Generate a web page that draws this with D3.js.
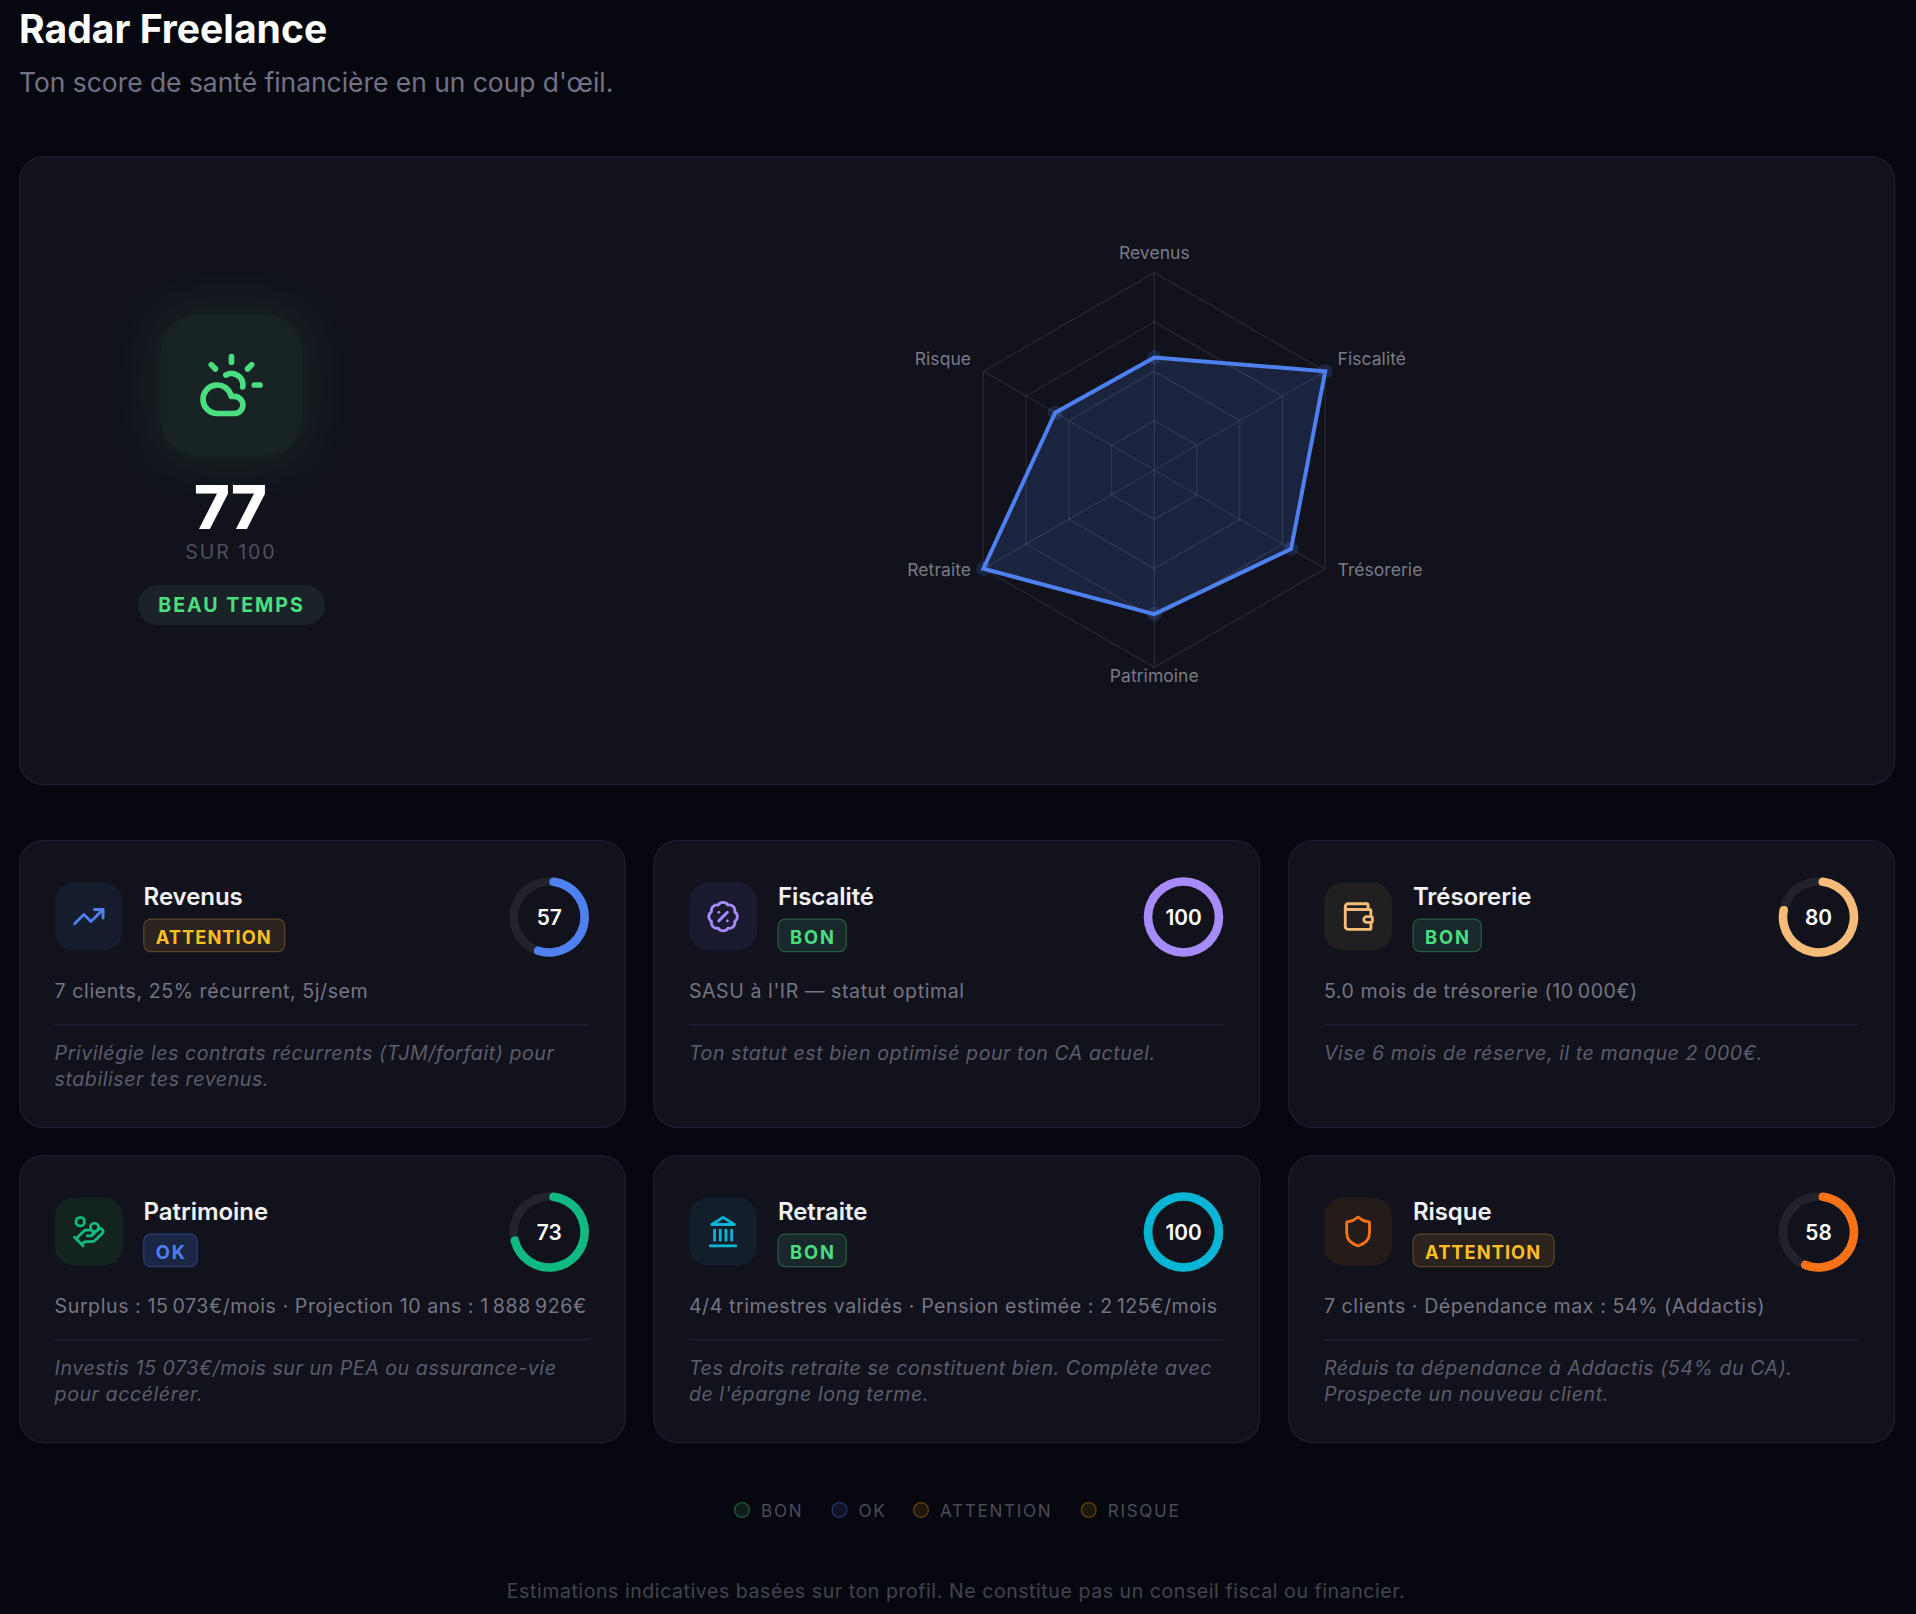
<!DOCTYPE html>
<html lang="fr">
<head>
<meta charset="utf-8">
<title>Radar Freelance</title>
<script src="https://cdn.jsdelivr.net/npm/d3@7"></script>
<style>
  html, body { margin: 0; padding: 0; background: #07080f; }
  svg { display: block; }
  text { font-family: Inter, "Noto Sans", sans-serif; }
</style>
</head>
<body>
<svg id="chart"></svg>
<script>
const axes = ['Revenus', 'Fiscalité', 'Trésorerie', 'Patrimoine', 'Retraite', 'Risque'];
const scores = [57, 100, 80, 73, 100, 58];
const gridLevels = [25, 50, 75, 100];
const statuses = ['ATTENTION', 'BON', 'BON', 'OK', 'BON', 'ATTENTION'];
const colors = ['#4f80f0', '#a78bfa', '#f5bb78', '#10b981', '#06b6d4', '#f97316'];
const details = [
  '7 clients, 25% récurrent, 5j/sem',
  "SASU à l'IR — statut optimal",
  '5.0 mois de trésorerie (10\u202f000€)',
  'Surplus : 15\u202f073€/mois · Projection 10 ans : 1\u202f888\u202f926€',
  '4/4 trimestres validés · Pension estimée : 2\u202f125€/mois',
  '7 clients · Dépendance max : 54% (Addactis)'
];
const tips = [
  ['Privilégie les contrats récurrents (TJM/forfait) pour', 'stabiliser tes revenus.'],
  ['Ton statut est bien optimisé pour ton CA actuel.'],
  ['Vise 6 mois de réserve, il te manque 2 000€.'],
  ['Investis 15 073€/mois sur un PEA ou assurance-vie', 'pour accélérer.'],
  ["Tes droits retraite se constituent bien. Complète avec", "de l'épargne long terme."],
  ['Réduis ta dépendance à Addactis (54% du CA).', 'Prospecte un nouveau client.']
];
const legendLabels = ['BON', 'OK', 'ATTENTION', 'RISQUE'];
const overallScore = 77;

// lucide icons, 24x24
const icons = {
  cloud: ['M12 2v2', 'm4.93 4.93 1.41 1.41', 'M20 12h2', 'm19.07 4.93-1.41 1.41', 'M15.947 12.65a4 4 0 0 0-5.925-4.128', 'M13 22H7a5 5 0 1 1 4.9-6H13a3 3 0 0 1 0 6Z'],
  trending: ['M22 7 13.5 15.5 8.5 10.5 2 17', 'M16 7h6v6'],
  percent: ['M3.85 8.62a4 4 0 0 1 4.78-4.77 4 4 0 0 1 6.74 0 4 4 0 0 1 4.78 4.78 4 4 0 0 1 0 6.74 4 4 0 0 1-4.77 4.78 4 4 0 0 1-6.75 0 4 4 0 0 1-4.78-4.77 4 4 0 0 1 0-6.76Z', 'm15 9-6 6', 'M9 9h.01', 'M15 15h.01'],
  wallet: ['M19 7V4a1 1 0 0 0-1-1H5a2 2 0 0 0 0 4h15a1 1 0 0 1 1 1v4h-3a2 2 0 0 0 0 4h3a1 1 0 0 0 1-1v-2a1 1 0 0 0-1-1', 'M3 5v14a2 2 0 0 0 2 2h15a1 1 0 0 0 1-1v-4'],
  coins: ['M11 15h2a2 2 0 1 0 0-4h-3c-.6 0-1.1.2-1.4.6L3 17', 'm7 21 1.6-1.4c.3-.4.8-.6 1.4-.6h4c1.1 0 2.1-.4 2.8-1.2l4.6-4.4a2 2 0 0 0-2.75-2.91l-4.2 3.9', 'm2 16 6 6', 'M18.9 9a2.9 2.9 0 1 1-5.8 0 2.9 2.9 0 1 1 5.8 0', 'M9 5a3 3 0 1 1-6 0 3 3 0 1 1 6 0'],
  landmark: ['M3 22h18', 'M6 18v-7', 'M10 18v-7', 'M14 18v-7', 'M18 18v-7', 'M12 2l8 5H4z'],
  shield: ['M20 13c0 5-3.5 7.5-7.66 8.95a1 1 0 0 1-.67-.01C7.5 20.5 4 18 4 13V6a1 1 0 0 1 1-1c2 0 4.5-1.2 6.24-2.72a1.17 1.17 0 0 1 1.52 0C14.51 3.81 17 5 19 5a1 1 0 0 1 1 1z']
};
const cardIcons = ['trending', 'percent', 'wallet', 'coins', 'landmark', 'shield'];
const iconBg = ['#141c2e', '#1a1a30', '#221f20', '#13231f', '#121f2b', '#231c18'];

const badgeStyle = {
  ATTENTION: { text: '#fbbf24', fill: '#2a231e', stroke: '#5a4426', spacing: 1.02, pad: 24.9 },
  BON: { text: '#4ade80', fill: '#19282a', stroke: '#285a40', spacing: 1.83, pad: 22.5 },
  OK: { text: '#4f80f0', fill: '#1b2544', stroke: '#2b3e70', spacing: 1.83, pad: 22.5 }
};
const legendColors = ['#4ade80', '#4f80f0', '#f59e0b', '#f59e0b'];

const width = 1916, height = 1614;
const svg = d3.select('#chart').attr('width', width).attr('height', height);

const defs = svg.append('defs');
defs.append('filter').attr('id', 'glow')
  .attr('x', '-60%').attr('y', '-60%').attr('width', '220%').attr('height', '220%')
  .append('feGaussianBlur').attr('stdDeviation', 26);

function label(g, str, x, y, size, weight, fill, opts = {}) {
  return g.append('text')
    .attr('x', x).attr('y', y)
    .attr('font-size', size)
    .attr('font-weight', weight)
    .attr('fill', fill)
    .attr('text-anchor', opts.anchor || 'start')
    .attr('letter-spacing', opts.spacing || 0)
    .attr('font-style', opts.style || 'normal')
    .text(str);
}

function drawIcon(g, name, cx, cy, size, color) {
  const s = size / 24;
  const ic = g.append('g')
    .attr('transform', `translate(${cx - size / 2},${cy - size / 2}) scale(${s})`)
    .attr('fill', 'none')
    .attr('stroke', color)
    .attr('stroke-width', 2)
    .attr('stroke-linecap', 'round')
    .attr('stroke-linejoin', 'round');
  ic.selectAll('path').data(icons[name]).enter().append('path').attr('d', d => d);
}

// header
label(svg, 'Radar Freelance', 19, 42.5, 39.1, 700, '#ffffff');
label(svg, "Ton score de santé financière en un coup d'œil.", 19, 92, 26.4, 400, '#727287');

// hero card
svg.append('rect')
  .attr('x', 19.6).attr('y', 156.6).attr('width', 1875).attr('height', 628)
  .attr('rx', 24).attr('fill', '#11121b').attr('stroke', '#1e1e30').attr('stroke-width', 1.4);

const hero = svg.append('g');
hero.append('rect')
  .attr('x', 155).attr('y', 309).attr('width', 153).attr('height', 153).attr('rx', 40)
  .attr('fill', '#4ade80').attr('opacity', 0.1).attr('filter', 'url(#glow)');
hero.append('rect')
  .attr('x', 161).attr('y', 315).attr('width', 141).attr('height', 141).attr('rx', 36)
  .attr('fill', '#182326');
drawIcon(hero, 'cloud', 231.5, 385, 68.4, '#4ade80');
label(hero, overallScore, 230.5, 529, 61, 800, '#ffffff', { anchor: 'middle' });
label(hero, 'SUR 100', 231, 559, 19.6, 400, '#4f4f5e', { anchor: 'middle', spacing: 1.9 });
hero.append('rect')
  .attr('x', 138).attr('y', 585).attr('width', 187).attr('height', 40).attr('rx', 20)
  .attr('fill', '#1a2428');
label(hero, 'BEAU TEMPS', 231.5, 611.7, 19.6, 700, '#4ade80', { anchor: 'middle', spacing: 1.95 });

// radar
const cx = 1154.3, cy = 470, R = 197.4;
const rScale = d3.scaleLinear().domain([0, 100]).range([0, R]);
const angle = d3.scalePoint().domain(axes).range([0, 2 * Math.PI * 5 / 6]);
const radar = svg.append('g').attr('transform', `translate(${cx},${cy})`);
const radial = d3.lineRadial().curve(d3.curveLinearClosed);
const gridColor = 'rgba(255,255,255,0.085)';

radar.append('path')
  .attr('d', radial(axes.map((a, i) => [angle(a), rScale(scores[i])])))
  .attr('fill', '#4f80f0').attr('fill-opacity', 0.17);

radar.selectAll('.level').data(gridLevels).enter().append('path')
  .attr('class', 'level')
  .attr('d', lv => radial(axes.map(a => [angle(a), rScale(lv)])))
  .attr('fill', 'none').attr('stroke', gridColor).attr('stroke-width', 1.4);

radar.selectAll('.spoke').data(axes).enter().append('line')
  .attr('class', 'spoke')
  .attr('x2', a => rScale(100) * Math.sin(angle(a)))
  .attr('y2', a => -rScale(100) * Math.cos(angle(a)))
  .attr('stroke', gridColor).attr('stroke-width', 1.4);

radar.selectAll('.halo').data(axes).enter().append('circle')
  .attr('class', 'halo')
  .attr('cx', (a, i) => rScale(scores[i]) * Math.sin(angle(a)))
  .attr('cy', (a, i) => -rScale(scores[i]) * Math.cos(angle(a)))
  .attr('r', 7.3)
  .attr('fill', '#4f80f0').attr('fill-opacity', 0.18);

radar.append('path')
  .attr('d', radial(axes.map((a, i) => [angle(a), rScale(scores[i])])))
  .attr('fill', 'none').attr('stroke', '#4f80f0').attr('stroke-width', 4).attr('stroke-linejoin', 'miter');

radar.selectAll('.axis-label').data(axes).enter().append('text')
  .attr('class', 'axis-label')
  .attr('x', a => {
    const sx = Math.sin(angle(a));
    return rScale(100) * sx + (Math.abs(sx) < 0.01 ? 0 : Math.sign(sx) * 12.3);
  })
  .attr('y', a => {
    const cs = Math.cos(angle(a));
    return -rScale(100) * cs + (Math.abs(cs) > 0.99 ? (cs > 0 ? -13.4 : 15) : cs > 0 ? -6.3 : 6.8);
  })
  .attr('text-anchor', a => {
    const sx = Math.sin(angle(a));
    return Math.abs(sx) < 0.01 ? 'middle' : sx > 0 ? 'start' : 'end';
  })
  .attr('font-size', 17.5).attr('letter-spacing', 0.05).attr('fill', '#7a7a88')
  .text(a => a);

// score cards
const ringArc = d3.arc().innerRadius(31.2).outerRadius(39.8).cornerRadius(4.3);
const ringAngle = d3.scaleLinear().domain([0, 100]).range([0, 2 * Math.PI]);
const cardX = [19.6, 653.9, 1288.9];
const cardY = [840.6, 1155.6];
const cardW = 605.6, cardH = 287;

axes.forEach((name, i) => {
  const x = cardX[i % 3], y = cardY[Math.floor(i / 3)];
  const g = svg.append('g').attr('transform', `translate(${x},${y})`);
  g.append('rect')
    .attr('width', cardW).attr('height', cardH).attr('rx', 24)
    .attr('fill', '#11121b').attr('stroke', '#1e1e30').attr('stroke-width', 1.4);

  g.append('rect')
    .attr('x', 35.2).attr('y', 42).attr('width', 68).attr('height', 68).attr('rx', 19.5)
    .attr('fill', iconBg[i]);
  drawIcon(g, cardIcons[i], 69.2, 76, 34.2, colors[i]);

  label(g, name, 124, 64.4, 24, 600, '#f2f2f7', { spacing: -0.05 });

  const st = badgeStyle[statuses[i]];
  const badge = g.append('g').attr('transform', 'translate(124.2,78.5)');
  const bt = label(badge, statuses[i], 12, 24.5, 18.3, 700, st.text, { spacing: st.spacing });
  const bw = bt.node().getComputedTextLength() + st.pad;
  badge.insert('rect', 'text')
    .attr('width', bw).attr('height', 32.5).attr('rx', 7)
    .attr('fill', st.fill).attr('stroke', st.stroke).attr('stroke-width', 1.3);

  const ring = g.append('g').attr('transform', `translate(${cardW - 36 - 40},76.4)`);
  ring.append('path')
    .attr('d', d3.arc().innerRadius(31.2).outerRadius(39.8).startAngle(0).endAngle(2 * Math.PI)())
    .attr('fill', '#22232b');
  ring.append('path')
    .attr('d', ringArc({ startAngle: 0, endAngle: ringAngle(scores[i]) }))
    .attr('fill', colors[i]);
  label(ring, scores[i], 0, 7.5, 20.8, 600, '#ffffff', { anchor: 'middle' });

  label(g, details[i], 35, 157.8, 19.6, 400, '#757584', { spacing: 0.56 });

  g.append('line')
    .attr('x1', 35.2).attr('x2', cardW - 35.8).attr('y1', 184.2).attr('y2', 184.2)
    .attr('stroke', '#1e1e2e').attr('stroke-width', 1.4);

  tips[i].forEach((line, j) => {
    label(g, line, 35, 219.6 + j * 26.3, 19.6, 400, '#5c5c6c', { style: 'italic', spacing: 0.55 });
  });
});

// legend
const legendX = [742, 839.5, 921, 1088.7];
const legendG = svg.append('g');
legendLabels.forEach((t, i) => {
  legendG.append('circle')
    .attr('cx', legendX[i]).attr('cy', 1510).attr('r', 7.4)
    .attr('fill', legendColors[i]).attr('fill-opacity', 0.1)
    .attr('stroke', legendColors[i]).attr('stroke-opacity', 0.35).attr('stroke-width', 1.3);
  label(legendG, t, legendX[i] + 19, 1516.7, 17.1, 400, '#4b4b58', { spacing: 1.7 });
});

label(svg, 'Estimations indicatives basées sur ton profil. Ne constitue pas un conseil fiscal ou financier.', 956, 1598, 19.55, 400, '#43434f', { anchor: 'middle', spacing: 0.56 });
</script>
</body>
</html>
